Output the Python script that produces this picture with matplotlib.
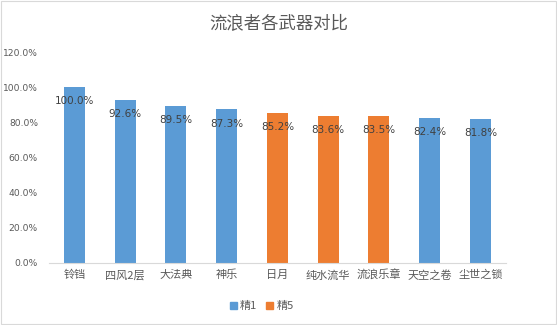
import numpy as np
import matplotlib.pyplot as plt
from matplotlib.patches import Patch

plt.rcParams['font.family'] = ['Noto Sans CJK SC', 'DejaVu Sans']

# DATA
weapons = ["铃铛", "四风2层", "大法典", "神乐", "日月", "纯水流华", "流浪乐章", "天空之卷", "尘世之锁"]
values = [100.0, 92.6, 89.5, 87.3, 85.2, 83.6, 83.5, 82.4, 81.8]
refine = ["精1", "精1", "精1", "精1", "精5", "精5", "精5", "精1", "精1"]
yticks = [0, 20, 40, 60, 80, 100, 120]

colors = {"精1": "#5B9BD5", "精5": "#ED7D31"}
text_col = "#595959"

fig = plt.figure(figsize=(5.57, 3.25), dpi=100)
ax = fig.add_axes([0.088, 0.191, 0.82, 0.649])

x = np.arange(len(weapons))
bars = ax.bar(x, values, width=0.41, color=[colors[r] for r in refine], zorder=2)

# data labels, inside the top of each bar
for b, v in zip(bars, values):
    ax.text(b.get_x() + b.get_width() / 2, v - 5.2, f"{v:.1f}%", ha="center", va="top",
            fontsize=7.5, color="#404040", family="DejaVu Sans")

ax.set_xlim(-0.5, len(weapons) - 0.5)
ax.set_ylim(0, 120)
ax.set_yticks(yticks)
ax.set_yticklabels([f"{t:.1f}%" for t in yticks], fontsize=6.6, color=text_col, family="DejaVu Sans")
ax.set_xticks(x)
ax.set_xticklabels(weapons, fontsize=8, color=text_col)
ax.tick_params(axis="both", length=0)
ax.tick_params(axis="y", pad=8)
ax.tick_params(axis="x", pad=5)

for s in ["top", "right", "left"]:
    ax.spines[s].set_visible(False)
ax.spines["bottom"].set_color("#D9D9D9")

fig.suptitle("流浪者各武器对比", y=0.955, fontsize=12.5, color=text_col)

handles = [Patch(color=colors["精1"], label="精1"), Patch(color=colors["精5"], label="精5")]
fig.legend(handles=handles, loc="center", bbox_to_anchor=(0.47, 0.058), ncol=2, frameon=False,
           fontsize=8, labelcolor=text_col, handlelength=0.6, handleheight=0.6,
           handletextpad=0.3, columnspacing=0.8)

# thin border around the chart area
fig.patches.append(plt.Rectangle((0.002, 0.004), 0.996, 0.992, transform=fig.transFigure,
                                 fill=False, edgecolor="#D9D9D9", linewidth=0.8))

plt.savefig("out.png", dpi=100)
